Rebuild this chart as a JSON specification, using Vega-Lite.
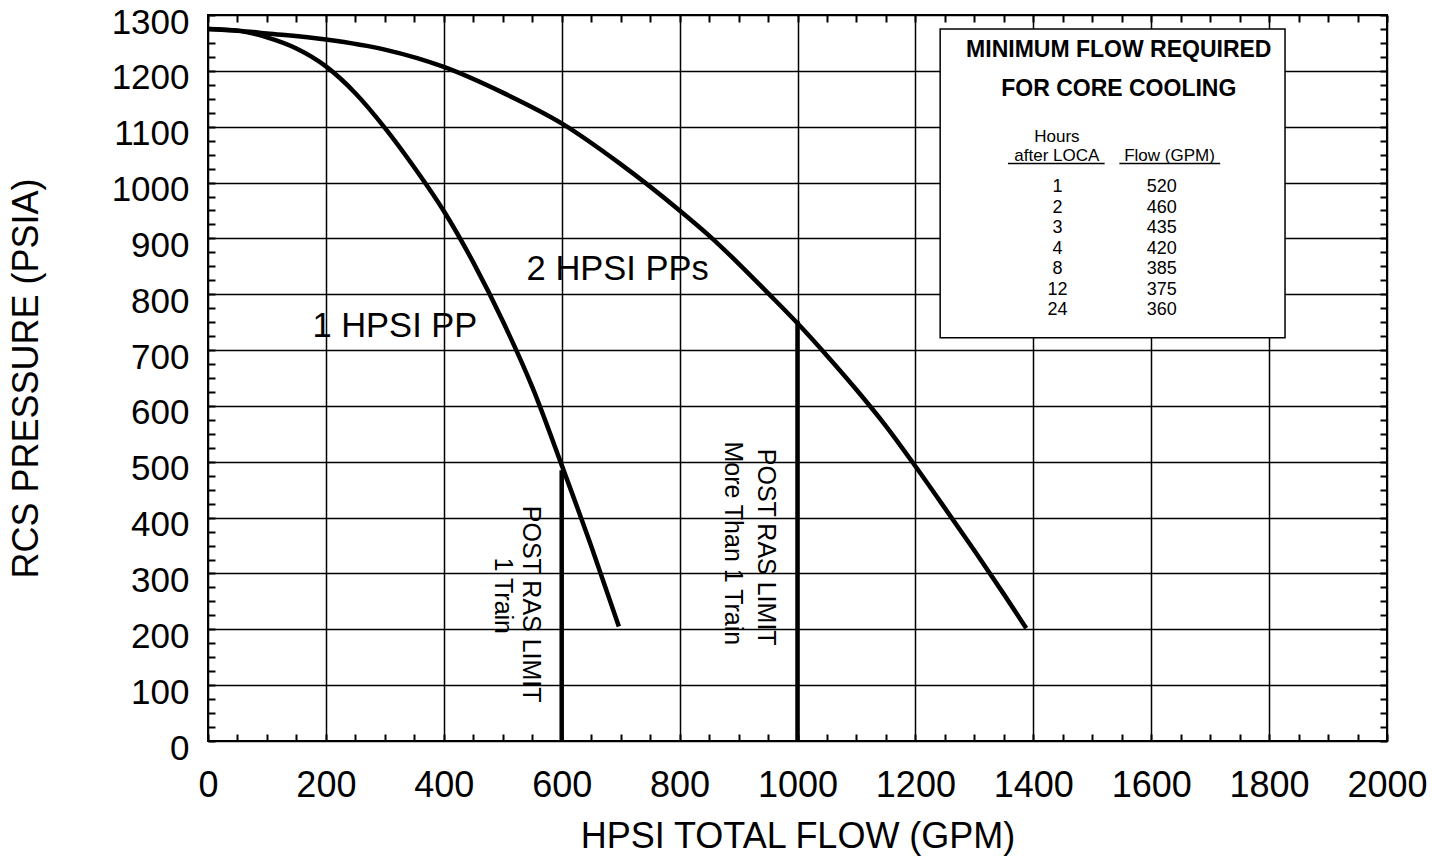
{
  "$schema": "https://vega.github.io/schema/vega-lite/v6.json",
  "width": 1179,
  "height": 726,
  "autosize": "none",
  "padding": {"left": 208, "top": 15, "right": 45, "bottom": 121},
  "background": "white",
  "config": {
    "font": "Liberation Sans",
    "view": {"stroke": "black", "strokeWidth": 2},
    "axis": {"labelColor": "black", "titleColor": "black", "tickColor": "black", "gridColor": "black"},
    "text": {"color": "black"}
  },
  "datasets": {
    "curves": [
      {"series": "1 HPSI PP", "flow": 0, "pressure": 1275},
      {"series": "1 HPSI PP", "flow": 50, "pressure": 1272},
      {"series": "1 HPSI PP", "flow": 100, "pressure": 1260},
      {"series": "1 HPSI PP", "flow": 150, "pressure": 1240},
      {"series": "1 HPSI PP", "flow": 200, "pressure": 1208},
      {"series": "1 HPSI PP", "flow": 250, "pressure": 1160},
      {"series": "1 HPSI PP", "flow": 300, "pressure": 1098},
      {"series": "1 HPSI PP", "flow": 350, "pressure": 1027},
      {"series": "1 HPSI PP", "flow": 400, "pressure": 949},
      {"series": "1 HPSI PP", "flow": 450, "pressure": 857},
      {"series": "1 HPSI PP", "flow": 500, "pressure": 752},
      {"series": "1 HPSI PP", "flow": 550, "pressure": 634},
      {"series": "1 HPSI PP", "flow": 600, "pressure": 494},
      {"series": "1 HPSI PP", "flow": 650, "pressure": 349},
      {"series": "1 HPSI PP", "flow": 697, "pressure": 205},
      {"series": "2 HPSI PPs", "flow": 0, "pressure": 1275},
      {"series": "2 HPSI PPs", "flow": 50, "pressure": 1272},
      {"series": "2 HPSI PPs", "flow": 100, "pressure": 1267},
      {"series": "2 HPSI PPs", "flow": 200, "pressure": 1256},
      {"series": "2 HPSI PPs", "flow": 300, "pressure": 1238},
      {"series": "2 HPSI PPs", "flow": 400, "pressure": 1207},
      {"series": "2 HPSI PPs", "flow": 500, "pressure": 1161},
      {"series": "2 HPSI PPs", "flow": 600, "pressure": 1106},
      {"series": "2 HPSI PPs", "flow": 700, "pressure": 1033},
      {"series": "2 HPSI PPs", "flow": 800, "pressure": 950},
      {"series": "2 HPSI PPs", "flow": 850, "pressure": 905},
      {"series": "2 HPSI PPs", "flow": 900, "pressure": 855},
      {"series": "2 HPSI PPs", "flow": 950, "pressure": 802},
      {"series": "2 HPSI PPs", "flow": 1000, "pressure": 748},
      {"series": "2 HPSI PPs", "flow": 1050, "pressure": 690},
      {"series": "2 HPSI PPs", "flow": 1100, "pressure": 629},
      {"series": "2 HPSI PPs", "flow": 1150, "pressure": 564},
      {"series": "2 HPSI PPs", "flow": 1200, "pressure": 492},
      {"series": "2 HPSI PPs", "flow": 1250, "pressure": 417},
      {"series": "2 HPSI PPs", "flow": 1300, "pressure": 341},
      {"series": "2 HPSI PPs", "flow": 1350, "pressure": 263},
      {"series": "2 HPSI PPs", "flow": 1388, "pressure": 202}
    ],
    "limits": [
      {"flow": 600, "bottom": 0, "top": 485},
      {"flow": 1000, "bottom": 0, "top": 752}
    ],
    "curveLabels": [
      {"label": "1 HPSI PP", "x": 317, "y": 723},
      {"label": "2 HPSI PPs", "x": 695, "y": 826}
    ],
    "limitLabels": [
      {"label": "POST RAS LIMIT", "x": 548, "y": 245},
      {"label": "1 Train", "x": 500, "y": 260},
      {"label": "POST RAS LIMIT", "x": 947, "y": 347},
      {"label": "More Than 1 Train", "x": 890, "y": 354}
    ],
    "boxFrame": [
      {"x1": 1242, "x2": 1827, "y1": 722, "y2": 1275}
    ],
    "boxTitle": [
      {"label": "MINIMUM FLOW REQUIRED", "x": 1545, "y": 1225},
      {"label": "FOR CORE COOLING", "x": 1545, "y": 1155}
    ],
    "boxHeads": [
      {"label": "Hours", "x": 1440, "y": 1072},
      {"label": "after LOCA", "x": 1440, "y": 1039},
      {"label": "Flow (GPM)", "x": 1631, "y": 1039}
    ],
    "underlines": [
      {"x1": 1357, "x2": 1521, "y": 1034},
      {"x1": 1546, "x2": 1717, "y": 1034}
    ],
    "table": [
      {"hours": "1", "flow": "520", "hx": 1441, "fx": 1618, "y": 983},
      {"hours": "2", "flow": "460", "hx": 1441, "fx": 1618, "y": 946.3},
      {"hours": "3", "flow": "435", "hx": 1441, "fx": 1618, "y": 909.6},
      {"hours": "4", "flow": "420", "hx": 1441, "fx": 1618, "y": 872.9},
      {"hours": "8", "flow": "385", "hx": 1441, "fx": 1618, "y": 836.2},
      {"hours": "12", "flow": "375", "hx": 1441, "fx": 1618, "y": 799.5},
      {"hours": "24", "flow": "360", "hx": 1441, "fx": 1618, "y": 762.8}
    ]
  },
  "layer": [
    {
      "data": {"name": "curves"},
      "mark": {"type": "line", "interpolate": "monotone", "color": "black", "strokeWidth": 4.5},
      "encoding": {
        "x": {
          "field": "flow", "type": "quantitative",
          "scale": {"domain": [0, 2000], "nice": false},
          "axis": {
            "orient": "bottom",
            "values": [0,50,100,150,200,250,300,350,400,450,500,550,600,650,700,750,800,850,900,950,1000,1050,1100,1150,1200,1250,1300,1350,1400,1450,1500,1550,1600,1650,1700,1750,1800,1850,1900,1950,2000],
            "format": "d",
            "labelExpr": "datum.value % 200 === 0 ? datum.label : ''",
            "grid": true, "gridWidth": 1.5,
            "gridOpacity": {"condition": {"test": "datum.value % 200 === 0", "value": 1}, "value": 0},
            "tickSize": -7, "tickWidth": 2,
            "domain": false,
            "labelFontSize": 36, "labelPadding": 34, "labelFlush": false, "labelOverlap": false,
            "title": "HPSI TOTAL FLOW (GPM)", "titleFontSize": 36, "titleFontWeight": "normal", "titlePadding": 16
          }
        },
        "y": {
          "field": "pressure", "type": "quantitative",
          "scale": {"domain": [0, 1300], "nice": false},
          "axis": {
            "orient": "left",
            "values": [0,25,50,75,100,125,150,175,200,225,250,275,300,325,350,375,400,425,450,475,500,525,550,575,600,625,650,675,700,725,750,775,800,825,850,875,900,925,950,975,1000,1025,1050,1075,1100,1125,1150,1175,1200,1225,1250,1275,1300],
            "format": "d",
            "labelExpr": "datum.value % 100 === 0 ? datum.label : ''",
            "grid": true, "gridWidth": 1.5,
            "gridOpacity": {"condition": {"test": "datum.value % 100 === 0", "value": 1}, "value": 0},
            "tickSize": -7, "tickWidth": 2,
            "domain": false,
            "labelFontSize": 35, "labelPadding": 26, "labelOffset": 7, "labelBaseline": "middle",
            "labelFlush": false, "labelOverlap": false,
            "title": "RCS PRESSURE (PSIA)", "titleFontSize": 36, "titleFontWeight": "normal", "titlePadding": 66
          }
        },
        "detail": {"field": "series"}
      }
    },
    {
      "data": {"name": "limits"},
      "mark": {"type": "rule", "color": "black", "strokeWidth": 4.5},
      "encoding": {
        "x": {
          "field": "flow", "type": "quantitative",
          "axis": {
            "orient": "top",
            "values": [0,50,100,150,200,250,300,350,400,450,500,550,600,650,700,750,800,850,900,950,1000,1050,1100,1150,1200,1250,1300,1350,1400,1450,1500,1550,1600,1650,1700,1750,1800,1850,1900,1950,2000],
            "labels": false, "grid": false, "domain": false,
            "tickSize": -7, "tickWidth": 2, "title": null
          }
        },
        "y": {
          "field": "bottom", "type": "quantitative",
          "axis": {
            "orient": "right",
            "values": [0,25,50,75,100,125,150,175,200,225,250,275,300,325,350,375,400,425,450,475,500,525,550,575,600,625,650,675,700,725,750,775,800,825,850,875,900,925,950,975,1000,1025,1050,1075,1100,1125,1150,1175,1200,1225,1250,1275,1300],
            "labels": false, "grid": false, "domain": false,
            "tickSize": -7, "tickWidth": 2, "title": null
          }
        },
        "y2": {"field": "top"}
      }
    },
    {
      "data": {"name": "curveLabels"},
      "mark": {"type": "text", "fontSize": 34.5, "align": "center", "baseline": "alphabetic"},
      "encoding": {
        "x": {"field": "x", "type": "quantitative", "axis": null},
        "y": {"field": "y", "type": "quantitative", "axis": null},
        "text": {"field": "label"}
      }
    },
    {
      "data": {"name": "limitLabels"},
      "mark": {"type": "text", "fontSize": 25, "angle": 90, "align": "center", "baseline": "middle"},
      "encoding": {
        "x": {"field": "x", "type": "quantitative", "axis": null},
        "y": {"field": "y", "type": "quantitative", "axis": null},
        "text": {"field": "label"}
      }
    },
    {
      "data": {"name": "boxFrame"},
      "mark": {"type": "rect", "fill": "white", "stroke": "black", "strokeWidth": 1.5},
      "encoding": {
        "x": {"field": "x1", "type": "quantitative", "axis": null},
        "x2": {"field": "x2"},
        "y": {"field": "y1", "type": "quantitative", "axis": null},
        "y2": {"field": "y2"}
      }
    },
    {
      "data": {"name": "boxTitle"},
      "mark": {"type": "text", "fontSize": 23, "fontWeight": "bold", "align": "center", "baseline": "alphabetic"},
      "encoding": {
        "x": {"field": "x", "type": "quantitative", "axis": null},
        "y": {"field": "y", "type": "quantitative", "axis": null},
        "text": {"field": "label"}
      }
    },
    {
      "data": {"name": "boxHeads"},
      "mark": {"type": "text", "fontSize": 17, "align": "center", "baseline": "alphabetic"},
      "encoding": {
        "x": {"field": "x", "type": "quantitative", "axis": null},
        "y": {"field": "y", "type": "quantitative", "axis": null},
        "text": {"field": "label"}
      }
    },
    {
      "data": {"name": "underlines"},
      "mark": {"type": "rule", "color": "black", "strokeWidth": 1.5},
      "encoding": {
        "x": {"field": "x1", "type": "quantitative", "axis": null},
        "x2": {"field": "x2"},
        "y": {"field": "y", "type": "quantitative", "axis": null}
      }
    },
    {
      "data": {"name": "table"},
      "mark": {"type": "text", "fontSize": 18, "align": "center", "baseline": "alphabetic"},
      "encoding": {
        "x": {"field": "hx", "type": "quantitative", "axis": null},
        "y": {"field": "y", "type": "quantitative", "axis": null},
        "text": {"field": "hours"}
      }
    },
    {
      "data": {"name": "table"},
      "mark": {"type": "text", "fontSize": 18, "align": "center", "baseline": "alphabetic"},
      "encoding": {
        "x": {"field": "fx", "type": "quantitative", "axis": null},
        "y": {"field": "y", "type": "quantitative", "axis": null},
        "text": {"field": "flow"}
      }
    }
  ],
  "resolve": {"axis": {"x": "independent", "y": "independent"}}
}
